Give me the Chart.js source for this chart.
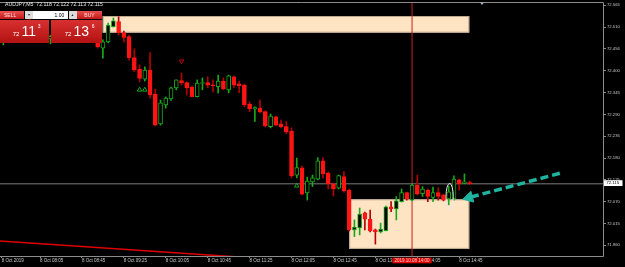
<!DOCTYPE html>
<html>
<head>
<meta charset="utf-8">
<script src="https://cdn.jsdelivr.net/npm/chart.js@4.4.1/dist/chart.umd.min.js"></script>
<style>
body { margin: 0; background: #000; }
#wrap { position: relative; width: 625px; height: 267px; overflow: hidden; font-family: "Liberation Sans", Arial, sans-serif; }
#priceChart { position: absolute; left: 0; top: 0; }
.title { position: absolute; left: 5px; top: 2.4px; font-size: 5.2px; line-height: 5.2px; color: #e6e6e6; white-space: nowrap; }
.box { position: absolute; }
.btn { top: 10.7px; height: 8.6px; background: linear-gradient(#e95050, #c11818); color: #ffe0e0; font-size: 5px; line-height: 8.6px; }
.sell { left: 0; width: 24px; padding-left: 4px; box-sizing: border-box; }
.buy { left: 77.3px; width: 24.4px; text-align: center; }
.spin { top: 10.7px; height: 8.6px; width: 8.2px; background: #dcdcdc; color: #333; font-size: 3.5px; line-height: 8.6px; text-align: center; }
.dn { left: 25px; }
.up { left: 68.5px; }
.lots { left: 33.3px; top: 10.7px; width: 35px; height: 8.6px; background: #fff; color: #000; font-size: 5px; line-height: 8.6px; text-align: right; padding-right: 4px; box-sizing: border-box; }
.quote { top: 19.7px; height: 23px; background: linear-gradient(#d83030, #b31212); color: #fff; }
.bid { left: 0; width: 49.4px; }
.ask { left: 51px; width: 50.7px; }
.quote span { position: absolute; line-height: 1; white-space: nowrap; }
.small { font-size: 6px; top: 11.2px; }
.big { font-size: 14px; top: 4.5px; }
.sup { font-size: 5px; top: 4.7px; }
</style>
</head>
<body>
<div id="wrap">
<canvas id="priceChart" width="625" height="267"></canvas>
<div class="title">AUDJPY,M5&nbsp; 72.118 72.122 72.113 72.115</div>
<div class="box btn sell">SELL</div>
<div class="box spin dn">&#9660;</div>
<div class="box lots">1.00</div>
<div class="box spin up">&#9650;</div>
<div class="box btn buy">BUY</div>
<div class="box quote bid"><span class="small" style="left:12.7px">72</span><span class="big" style="left:21.5px">11</span><span class="sup" style="left:37.8px">3</span></div>
<div class="box quote ask"><span class="small" style="left:13.7px">72</span><span class="big" style="left:22.5px">13</span><span class="sup" style="left:40.8px">6</span></div>
</div>
<script>
// AUDJPY M5 candles, 8 Oct 2019 (bar 0 = 07:25, one bar every 5 minutes)

const opens = [
    72.500, 72.492, 72.505, 72.497, 72.510, 72.505, 72.520, 72.510, 72.495, 72.485,
    72.480, 72.487, 72.500, 72.510, 72.505, 72.495, 72.490, 72.482, 72.478, 72.470,
    72.457, 72.473, 72.511, 72.524, 72.496, 72.486, 72.433, 72.404, 72.379, 72.402,
    72.341, 72.266, 72.314, 72.329, 72.357, 72.375, 72.370, 72.359, 72.335, 72.368,
    72.370, 72.364, 72.360, 72.374, 72.352, 72.385, 72.367, 72.364, 72.316, 72.304,
    72.306, 72.297, 72.259, 72.284, 72.266, 72.259, 72.248, 72.137, 72.155, 72.092,
    72.120, 72.127, 72.173, 72.142, 72.115, 72.104, 72.133, 72.099, 71.999, 72.004,
    72.042, 72.026, 71.999, 71.994, 71.997, 72.057, 72.052, 72.070, 72.093, 72.074,
    72.112, 72.090, 72.099, 72.081, 72.093, 72.087, 72.077, 72.077, 72.125, 72.116,
    72.118
];

const highs = [
    72.512, 72.510, 72.508, 72.515, 72.520, 72.525, 72.530, 72.515, 72.500, 72.490,
    72.490, 72.505, 72.515, 72.525, 72.510, 72.500, 72.500, 72.488, 72.485, 72.475,
    72.478, 72.520, 72.533, 72.536, 72.500, 72.490, 72.455, 72.415, 72.410, 72.446,
    72.354, 72.326, 72.334, 72.359, 72.377, 72.394, 72.372, 72.362, 72.377, 72.382,
    72.385, 72.377, 72.389, 72.382, 72.389, 72.387, 72.374, 72.367, 72.322, 72.309,
    72.326, 72.299, 72.291, 72.286, 72.276, 72.272, 72.256, 72.180, 72.160, 72.132,
    72.137, 72.181, 72.181, 72.145, 72.117, 72.137, 72.146, 72.102, 72.024, 72.054,
    72.044, 72.049, 72.001, 72.016, 72.059, 72.070, 72.083, 72.102, 72.094, 72.115,
    72.137, 72.108, 72.102, 72.107, 72.105, 72.089, 72.109, 72.135, 72.127, 72.140,
    72.122
];

const lows = [
    72.488, 72.465, 72.490, 72.490, 72.500, 72.500, 72.505, 72.490, 72.480, 72.475,
    72.468, 72.482, 72.495, 72.500, 72.490, 72.480, 72.478, 72.475, 72.472, 72.457,
    72.432, 72.470, 72.510, 72.490, 72.473, 72.427, 72.398, 72.372, 72.374, 72.331,
    72.261, 72.263, 72.306, 72.325, 72.352, 72.364, 72.339, 72.334, 72.334, 72.352,
    72.357, 72.347, 72.344, 72.352, 72.344, 72.357, 72.345, 72.309, 72.297, 72.272,
    72.294, 72.258, 72.256, 72.261, 72.256, 72.241, 72.130, 72.130, 72.087, 72.074,
    72.108, 72.125, 72.130, 72.102, 72.084, 72.102, 72.094, 71.996, 71.982, 71.986,
    71.999, 71.994, 71.963, 71.991, 71.996, 72.045, 72.024, 72.069, 72.074, 72.072,
    72.087, 72.083, 72.070, 72.070, 72.074, 72.072, 72.062, 72.074, 72.099, 72.115,
    72.113
];

const closes = [
    72.492, 72.505, 72.497, 72.510, 72.505, 72.520, 72.510, 72.495, 72.485, 72.480,
    72.487, 72.500, 72.510, 72.505, 72.495, 72.490, 72.482, 72.478, 72.474, 72.460,
    72.473, 72.515, 72.526, 72.496, 72.484, 72.433, 72.402, 72.381, 72.402, 72.339,
    72.263, 72.319, 72.331, 72.357, 72.377, 72.370, 72.357, 72.335, 72.369, 72.370,
    72.364, 72.362, 72.374, 72.355, 72.387, 72.364, 72.362, 72.314, 72.304, 72.307,
    72.297, 72.261, 72.286, 72.263, 72.259, 72.246, 72.135, 72.156, 72.089, 72.122,
    72.130, 72.173, 72.140, 72.115, 72.102, 72.136, 72.097, 71.999, 72.006, 72.039,
    72.026, 71.996, 71.994, 72.001, 72.057, 72.052, 72.072, 72.093, 72.076, 72.112,
    72.089, 72.102, 72.083, 72.093, 72.083, 72.074, 72.095, 72.127, 72.115, 72.120,
    72.115
];

// axis ticks
const xTickValues = [0.7, 8, 16, 24, 32, 40, 48, 56, 64, 72, 80, 88];
const xTickLabels = [
    "8 Oct 2019", "8 Oct 08:05", "8 Oct 08:45", "8 Oct 09:25", "8 Oct 10:05", "8 Oct 10:45",
    "8 Oct 11:25", "8 Oct 12:05", "8 Oct 12:45", "8 Oct 13:25", "8 Oct 14:05", "8 Oct 14:45"
];
const yTickValues = [71.960, 72.015, 72.070, 72.125, 72.180, 72.235, 72.290, 72.345, 72.400, 72.456, 72.510, 72.565];

// visible window
const xMin = 0.363, xMax = 115.44;
const yMin = 71.933, yMax = 72.5734;

// objects placed on the chart
const bidPrice = 72.115;
const vLineBar = 79;
const vLineLabel = "2019.10.08 14:00";
const zones = [
    [19.96, 89.92, 72.496, 72.538],
    [67.0, 89.92, 71.951, 72.076]
];
const trendLine = [{x: 0, y: 71.9712}, {x: 50, y: 71.9268}];
const arrowLine = [{x: 107.2, y: 72.1415}, {x: 89.9, y: 72.0805}];
const ellipseBox = [85.48, 86.87, 72.049, 72.116];
const buyMarks = [{x: 27, y: 72.352}, {x: 28, y: 72.352}, {x: 57, y: 72.110}];
const sellMarks = [{x: 35, y: 72.424}];
const shiftMark = 92.35;

const bullColor = "#1aa81a";
const bearColor = "#ff1414";
const bearWick = "#b40000";

const isBull = i => closes[i] >= opens[i];

const chartObjects = {
    id: "chartObjects",
    beforeDatasetsDraw(chart) {
        const {ctx, scales: {x, y}} = chart;
        ctx.save();
        zones.forEach(z => {
            const x1 = x.getPixelForValue(z[0]);
            const x2 = x.getPixelForValue(z[1]);
            const y1 = y.getPixelForValue(z[3]);
            const y2 = y.getPixelForValue(z[2]);
            ctx.fillStyle = "#ffe4c4";
            ctx.fillRect(x1, y1, x2 - x1, y2 - y1);
            ctx.strokeStyle = "#bba78f";
            ctx.lineWidth = 1;
            ctx.strokeRect(x1 + 0.5, y1 + 0.5, x2 - x1 - 1, y2 - y1 - 1);
        });
        ctx.restore();
    },
    afterDatasetsDraw(chart) {
        const {ctx, scales: {x, y}} = chart;
        const x1 = x.getPixelForValue(ellipseBox[0]);
        const x2 = x.getPixelForValue(ellipseBox[1]);
        const y1 = y.getPixelForValue(ellipseBox[3]);
        const y2 = y.getPixelForValue(ellipseBox[2]);
        ctx.save();
        ctx.strokeStyle = "#e8e8e8";
        ctx.lineWidth = 1;
        ctx.beginPath();
        ctx.ellipse((x1 + x2) / 2, (y1 + y2) / 2, (x2 - x1) / 2, (y2 - y1) / 2, 0, 0, Math.PI * 2);
        ctx.stroke();
        ctx.restore();
    },
    afterDraw(chart) {
        const {ctx, chartArea: a, scales: {x, y}} = chart;
        ctx.save();

        // frame
        ctx.strokeStyle = "#8c8c8c";
        ctx.lineWidth = 1;
        ctx.beginPath();
        ctx.moveTo(a.left, a.top + 0.5);
        ctx.lineTo(a.right + 0.5, a.top + 0.5);
        ctx.lineTo(a.right + 0.5, a.bottom + 0.5);
        ctx.lineTo(a.left, a.bottom + 0.5);
        ctx.stroke();

        // chart shift mark
        const sx = x.getPixelForValue(shiftMark);
        ctx.fillStyle = "#a8b4c4";
        ctx.beginPath();
        ctx.moveTo(sx - 2, a.top + 0.5);
        ctx.lineTo(sx + 2, a.top + 0.5);
        ctx.lineTo(sx, a.top + 3);
        ctx.fill();

        // bid price label
        const by = y.getPixelForValue(bidPrice);
        ctx.fillStyle = "#ffffff";
        ctx.fillRect(a.right + 1, by - 3.6, 18.5, 5.8);
        ctx.fillStyle = "#000000";
        ctx.font = '4.2px "Liberation Sans"';
        ctx.textBaseline = "middle";
        ctx.textAlign = "left";
        ctx.fillText(bidPrice.toFixed(3), a.right + 3.5, by - 0.7);

        // vertical line time label
        const vx = x.getPixelForValue(vLineBar);
        ctx.font = '4.5px "Liberation Sans"';
        const w = ctx.measureText(vLineLabel).width + 4;
        ctx.fillStyle = "#e00000";
        ctx.fillRect(vx - w / 2, a.bottom + 1.7, w, 5.6);
        ctx.fillStyle = "#ffd0d0";
        ctx.textAlign = "center";
        ctx.fillText(vLineLabel, vx, a.bottom + 4.6);
        ctx.restore();
    }
};

const priceCanvas = document.getElementById("priceChart");

new Chart(priceCanvas, {

    type: "bar",

    data: {
        datasets: [
            {
                label: "wicks",
                order: 1,
                data: opens.map((o, i) => ({x: i, y: [lows[i], highs[i]]})),
                barThickness: 1,
                grouped: false,
                borderWidth: 0,
                backgroundColor: c => isBull(c.dataIndex) ? bullColor : bearWick
            },
            {
                label: "bodies",
                order: 0,
                data: opens.map((o, i) => ({x: i, y: [o, closes[i]]})),
                barThickness: 4,
                grouped: false,
                minBarLength: 1,
                borderWidth: 1,
                borderSkipped: false,
                borderColor: c => isBull(c.dataIndex) ? bullColor : bearColor,
                backgroundColor: c => isBull(c.dataIndex) ? "#000000" : bearColor
            },
            {
                type: "line",
                label: "bid",
                order: 3,
                data: [{x: xMin, y: bidPrice}, {x: xMax, y: bidPrice}],
                borderColor: "#7c7c7c",
                borderWidth: 1,
                pointRadius: 0
            },
            {
                type: "line",
                label: "vline",
                order: 3,
                data: [{x: vLineBar, y: yMin}, {x: vLineBar, y: yMax}],
                borderColor: "#cc2020",
                borderWidth: 1,
                pointRadius: 0
            },
            {
                type: "line",
                label: "trend",
                order: 2,
                data: trendLine,
                borderColor: "#e00000",
                borderWidth: 1.5,
                pointRadius: 0
            },
            {
                type: "line",
                label: "buy marks",
                order: 0,
                data: buyMarks,
                showLine: false,
                pointStyle: "triangle",
                pointRadius: 2.6,
                pointBorderWidth: 1,
                pointBorderColor: bullColor,
                pointBackgroundColor: "rgba(0,0,0,0)"
            },
            {
                type: "line",
                label: "sell marks",
                order: 0,
                data: sellMarks,
                showLine: false,
                pointStyle: "triangle",
                pointRotation: 180,
                pointRadius: 2.6,
                pointBorderWidth: 1,
                pointBorderColor: "#c00000",
                pointBackgroundColor: "rgba(0,0,0,0)"
            },
            {
                type: "line",
                label: "arrow",
                order: -1,
                data: arrowLine,
                borderColor: "#1eb4a0",
                borderWidth: 3.5,
                borderDash: [8, 4],
                pointStyle: "triangle",
                pointRotation: 255,
                pointRadius: [0, 6.5],
                pointBorderWidth: 1,
                pointBorderColor: "#1eb4a0",
                pointBackgroundColor: "#1eb4a0"
            }
        ]
    },

    options: {

        responsive: false,
        devicePixelRatio: 1,
        animation: false,
        events: [],

        layout: {
            autoPadding: false,
            padding: {top: 2, left: 0, right: 0, bottom: 0}
        },

        plugins: {
            legend: {display: false},
            tooltip: {enabled: false}
        },

        scales: {
            x: {
                type: "linear",
                min: xMin,
                max: xMax,
                offset: false,
                afterBuildTicks: s => { s.ticks = xTickValues.map(v => ({value: v})); },
                afterFit: s => {
                    s.height = 11;
                    s.paddingLeft = 0;
                    s.paddingRight = 0;
                },
                grid: {drawOnChartArea: false, drawTicks: true, tickLength: 2, color: "#8c8c8c", offset: false},
                border: {display: false},
                ticks: {
                    autoSkip: false,
                    maxRotation: 0,
                    minRotation: 0,
                    align: "start",
                    padding: 0,
                    color: "#c8c8c8",
                    font: {family: "Liberation Sans", size: 4.5},
                    callback: (v, i) => xTickLabels[i]
                }
            },
            y: {
                type: "linear",
                position: "right",
                min: yMin,
                max: yMax,
                beginAtZero: false,
                afterBuildTicks: s => { s.ticks = yTickValues.map(v => ({value: v})); },
                afterFit: s => {
                    s.width = 22;
                    s.paddingTop = 0;
                    s.paddingBottom = 0;
                },
                grid: {drawOnChartArea: false, drawTicks: true, tickLength: 3, color: "#8c8c8c"},
                border: {display: false},
                ticks: {
                    padding: 1,
                    color: "#c8c8c8",
                    font: {family: "Liberation Sans", size: 4.2},
                    callback: v => v.toFixed(3)
                }
            }
        }
    },

    plugins: [chartObjects]
});
</script>
</body>
</html>
